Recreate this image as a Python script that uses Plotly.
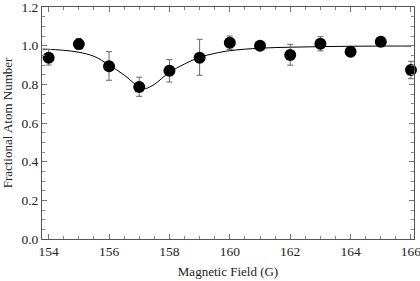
import plotly.graph_objects as go

# Data points
field = [154, 155, 156, 157, 158, 159, 160, 161, 162, 163, 164, 165, 166]
frac = [0.938, 1.008, 0.894, 0.786, 0.870, 0.938, 1.015, 1.000, 0.952, 1.010, 0.969, 1.020, 0.874]
err_plus = [0.042, 0.028, 0.075, 0.051, 0.058, 0.095, 0.035, 0.010, 0.055, 0.037, 0.016, 0.008, 0.045]
err_minus = [0.038, 0.027, 0.073, 0.048, 0.058, 0.091, 0.034, 0.010, 0.053, 0.037, 0.015, 0.008, 0.045]

# Fit curve
fit_field = [153.8, 154, 154.5, 155, 155.5, 156, 156.5, 157, 157.2, 157.5, 158, 158.5, 159,
             159.5, 160, 161, 162, 163, 164, 165, 166]
fit_frac = [0.982, 0.981, 0.976, 0.966, 0.945, 0.900, 0.848, 0.786, 0.778, 0.800, 0.862, 0.905, 0.940,
            0.960, 0.974, 0.987, 0.992, 0.995, 0.997, 0.998, 0.998]

x_ticks = [154, 156, 158, 160, 162, 164, 166]
y_ticks = [0.0, 0.2, 0.4, 0.6, 0.8, 1.0, 1.2]

fig = go.Figure()
fig.add_trace(go.Scatter(x=fit_field, y=fit_frac, mode="lines", line=dict(color="black", width=1, shape="spline"),
                         hoverinfo="skip", showlegend=False, cliponaxis=False))
fig.add_trace(go.Scatter(
    x=field, y=frac, mode="markers",
    marker=dict(color="black", size=12),
    error_y=dict(type="data", array=err_plus, arrayminus=err_minus, color="#666666", thickness=1, width=3),
    showlegend=False, cliponaxis=False))

font = "Liberation Serif, Times New Roman, serif"
axis_common = dict(showgrid=False, zeroline=False, showline=True, linecolor="#555555", linewidth=1,
                   mirror="allticks", ticks="inside", ticklen=5, tickcolor="#777777", automargin=False,
                   ticklabeloverflow="allow",
                   tickfont=dict(family=font, size=13.5, color="#222222"))

fig.update_xaxes(range=[153.78, 166.1], tickvals=x_ticks, ticktext=[str(v) for v in x_ticks],
                 minor=dict(dtick=0.5, tick0=154, ticks="inside", ticklen=3, tickcolor="#888888"),
                 title=dict(text="Magnetic Field (G)", font=dict(family=font, size=13, color="#222222"), standoff=8),
                 **axis_common)
fig.update_yaxes(range=[0, 1.2], tickvals=y_ticks, ticktext=[f"{v:.1f}" for v in y_ticks],
                 minor=dict(dtick=0.05, tick0=0, ticks="inside", ticklen=3, tickcolor="#888888"),
                 title=dict(text="Fractional Atom Number", font=dict(family=font, size=13, color="#222222"), standoff=6),
                 **axis_common)

fig.update_layout(width=420, height=281, margin=dict(l=42, r=6, t=7, b=42),
                  plot_bgcolor="white", paper_bgcolor="white")

fig.write_html("out.html", post_script="document.body.style.margin='0';",
               config={"displayModeBar": False})
